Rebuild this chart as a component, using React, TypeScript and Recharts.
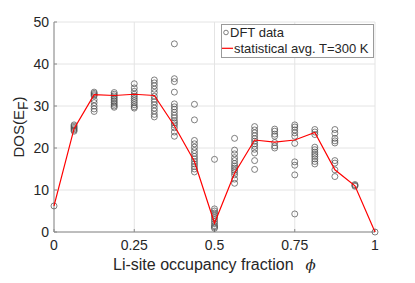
import React from "react";
import {
  ScatterChart,
  Scatter,
  XAxis,
  YAxis,
  CartesianGrid,
  Legend,
} from "recharts";

const phiLevels = [
  0, 0.0625, 0.125, 0.1875, 0.25, 0.3125, 0.375, 0.4375, 0.5, 0.5625, 0.625,
  0.6875, 0.75, 0.8125, 0.875, 0.9375, 1,
];

const dftByPhi: number[][] = [
  [6.2],
  [25.5, 25.2, 24.9, 24.6, 24.3, 24.0],
  [33.3, 33.0, 32.7, 32.4, 31.5, 30.8, 30.0, 29.3, 28.7],
  [33.2, 32.8, 32.4, 32.0, 31.6, 31.2, 30.8, 30.4, 30.0, 29.7],
  [35.3, 34.3, 33.5, 32.8, 32.3, 31.8, 31.3, 30.8, 30.3, 29.8, 29.5],
  [36.2, 35.5, 34.8, 34.0, 33.2, 32.3, 31.6, 31.0, 30.3, 29.5, 28.8, 28.0, 27.4],
  [44.8, 36.5, 35.8, 33.3, 30.5, 29.8, 29.2, 28.5, 27.8, 27.2, 26.5, 26.0, 25.5, 24.8, 23.8, 22.8],
  [30.4, 26.7, 21.8, 21.0, 20.2, 19.4, 18.7, 18.0, 17.4, 16.8, 16.2, 15.6, 15.0, 14.3],
  [17.3, 5.5, 5.0, 4.5, 4.0, 3.5, 3.0, 2.5, 2.0, 1.5, 1.2, 0.9],
  [22.3, 19.5, 18.6, 17.7, 17.0, 16.3, 15.7, 15.2, 14.7, 14.2, 13.6, 12.6, 11.6],
  [25.1, 24.3, 23.6, 22.9, 22.2, 21.6, 21.0, 20.4, 19.7, 18.8, 17.0, 14.9],
  [24.5, 24.0, 23.3, 22.8, 21.3, 20.5, 20.0],
  [25.5, 25.0, 24.3, 23.6, 22.8, 21.1, 16.7, 15.9, 13.6, 4.3],
  [24.4, 23.8, 23.2, 20.2, 19.6, 19.0, 18.5, 18.0, 17.4, 16.8, 16.2],
  [24.4, 23.5, 22.3, 21.7, 21.2, 17.0, 16.4, 14.8, 13.2],
  [11.3, 11.1, 10.9],
  [0],
];

const avgValues = [
  6.2, 24.6, 32.7, 32.5, 32.8, 32.5, 25.3, 16.8, 2.1, 14.0, 21.9, 21.4, 21.9,
  23.7, 14.8, 11.0, 0,
];

const xTicks = [0, 0.25, 0.5, 0.75, 1];
const yTicks = [0, 10, 20, 30, 40, 50];

const seriesNames = ["DFT data", "statistical avg. T=300 K"];

const dftData = phiLevels.flatMap((phi, i) =>
  dftByPhi[i].map((v) => ({ phi, dos: v }))
);
const avgData = phiLevels.map((phi, i) => ({ phi, dos: avgValues[i] }));

const FONT = '"Liberation Sans", Arial, Helvetica, sans-serif';
const AXIS_COLOR = "#8a8a8a";
const TEXT_COLOR = "#262626";

const HollowCircle = (props: any) => {
  const { cx, cy } = props;
  if (cx == null || cy == null) return <g />;
  return (
    <circle cx={cx} cy={cy} r={3} fill="none" stroke="#4a4a4a" strokeWidth={0.7} />
  );
};

const NoShape = () => <g />;

const fmtX = (v: number) => (v === 0 ? "0" : v === 1 ? "1" : String(v));

const LegendBox = () => (
  <svg width={153} height={34} style={{ display: "block", overflow: "visible" }}>
    <rect x={0.5} y={0.5} width={152} height={33} fill="#ffffff" stroke="#9a9a9a" strokeWidth={1} />
    <circle cx={5} cy={8.5} r={2.3} fill="none" stroke="#4a4a4a" strokeWidth={0.7} />
    <text x={9} y={13.3} fontFamily={FONT} fontSize={13} fill={TEXT_COLOR}>
      {seriesNames[0]}
    </text>
    <line x1={1} x2={12} y1={24.3} y2={24.3} stroke="#ff0000" strokeWidth={1.2} />
    <text x={13} y={28.7} fontFamily={FONT} fontSize={13} fill={TEXT_COLOR}>
      {seriesNames[1]}
    </text>
  </svg>
);

const YLabel = () => (
  <text
    x={24}
    y={127}
    transform="rotate(-90, 24, 127)"
    textAnchor="middle"
    fontFamily={FONT}
    fontSize={15}
    fill={TEXT_COLOR}
  >
    <tspan>DOS(E</tspan>
    <tspan fontSize={14} dy={4}>F</tspan>
    <tspan dy={-4}>)</tspan>
  </text>
);

const XLabel = () => (
  <text x={113} y={270} textAnchor="start" fontFamily={FONT} fontSize={16} fill={TEXT_COLOR}>
    <tspan>Li-site occupancy fraction</tspan>
    <tspan dx={12} fontStyle="italic" fontFamily='"DejaVu Serif", serif' fontSize={15}>
      ϕ
    </tspan>
  </text>
);

export default function App() {
  return (
    <div style={{ position: "absolute", left: 0, top: 0, width: 415, height: 283, background: "#fff" }}>
      <ScatterChart
        width={415}
        height={283}
        margin={{ top: 22, right: 40, bottom: 0, left: 0 }}
      >
        <CartesianGrid stroke="#e4e4e4" strokeWidth={1} />
        <XAxis
          xAxisId={0}
          type="number"
          dataKey="phi"
          domain={[0, 1]}
          ticks={xTicks}
          tickFormatter={fmtX}
          height={51}
          stroke={AXIS_COLOR}
          tickSize={-3}
          tickMargin={11}
          tick={{ fill: TEXT_COLOR, fontSize: 14, fontFamily: FONT }}
          label={<XLabel />}
        />
        <XAxis
          xAxisId="top"
          orientation="top"
          type="number"
          dataKey="phi"
          domain={[0, 1]}
          ticks={xTicks}
          height={0}
          stroke={AXIS_COLOR}
          tickSize={-3}
          tick={false}
        />
        <YAxis
          yAxisId={0}
          type="number"
          dataKey="dos"
          domain={[0, 50]}
          ticks={yTicks}
          width={54}
          stroke={AXIS_COLOR}
          tickSize={-3}
          tickMargin={8}
          tick={{ fill: TEXT_COLOR, fontSize: 14, fontFamily: FONT }}
          label={<YLabel />}
        />
        <YAxis
          yAxisId="right"
          orientation="right"
          type="number"
          dataKey="dos"
          domain={[0, 50]}
          ticks={yTicks}
          width={0}
          stroke={AXIS_COLOR}
          tickSize={-3}
          tick={false}
        />
        <Legend
          layout="horizontal"
          verticalAlign="middle"
          align="center"
          wrapperStyle={{ position: "absolute", left: 221, top: 24, width: 153, height: 34 }}
          content={() => <LegendBox />}
        />
        <Scatter
          name={seriesNames[0]}
          data={dftData}
          xAxisId={0}
          yAxisId={0}
          shape={<HollowCircle />}
          isAnimationActive={false}
        />
        <Scatter
          name={seriesNames[1]}
          data={avgData}
          xAxisId={0}
          yAxisId={0}
          line={{ stroke: "#ff0000", strokeWidth: 1.2 }}
          lineType="joint"
          shape={NoShape}
          isAnimationActive={false}
        />
      </ScatterChart>
    </div>
  );
}
